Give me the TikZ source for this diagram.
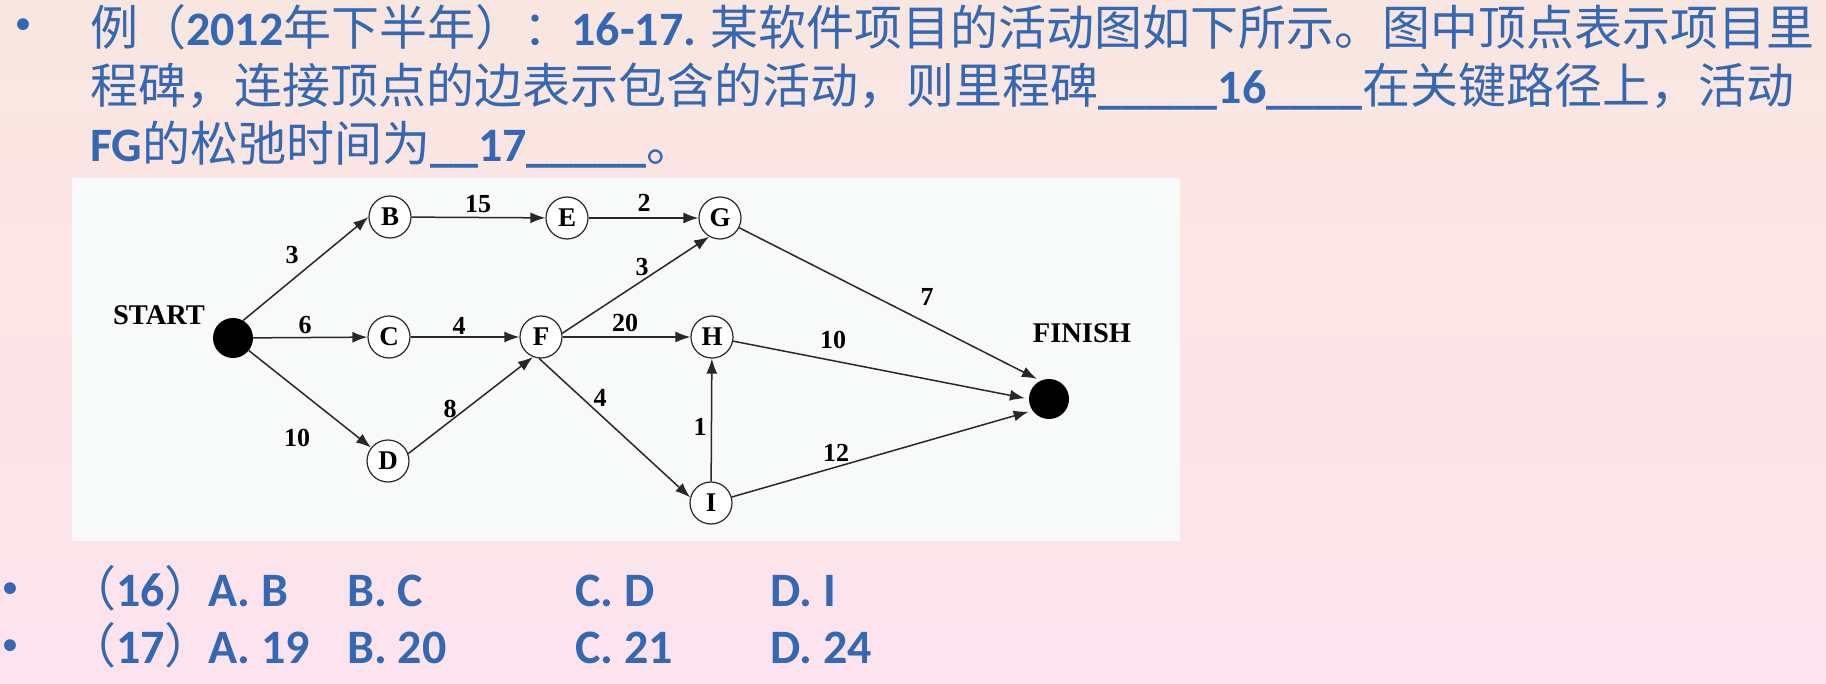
\documentclass[tikz,border=0pt]{standalone}
\usepackage{fontspec}
\setmainfont{Carlito}
\newfontfamily\cjk{Noto Sans CJK SC}
\newfontfamily\tnr{Liberation Serif}
\usetikzlibrary{arrows.meta}
\definecolor{txtblue}{RGB}{52,104,178}
\definecolor{bgtop}{RGB}{250,230,224}
\definecolor{bgbot}{RGB}{252,227,238}
\definecolor{edgegray}{RGB}{40,40,40}
\definecolor{boxfill}{RGB}{248,249,249}
\begin{document}
\begin{tikzpicture}[x=1pt,y=-1pt,
  ms/.style={circle, draw=edgegray, line width=1.2pt, fill=white, minimum size=42pt, inner sep=0pt, font=\tnr\bfseries\fontsize{27}{27}\selectfont},
  term/.style={circle, fill=black, minimum size=40pt, inner sep=0pt},
  lbl/.style={font=\tnr\bfseries\fontsize{26}{26}\selectfont, inner sep=0pt},
  tag/.style={font=\tnr\bfseries\fontsize{28.5}{28.5}\selectfont, inner sep=0pt},
  act/.style={draw=edgegray, line width=1.5pt, -{Latex[length=15pt,width=11pt]}},
  fin/.style={act, shorten >=4pt},
  qtext/.style={text=txtblue, font=\fontsize{48}{58}\selectfont, inner sep=0pt, anchor=base west},
  bul/.style={text=txtblue, font=\bfseries\fontsize{28}{28}\selectfont, inner sep=0pt},
]
\useasboundingbox (0,0) rectangle (1826,684);
\shade[top color=bgtop, bottom color=bgbot] (0,0) rectangle (1826,684);
\fill[boxfill] (72,178) rectangle (1180,541);

% question text
\node[bul] (b1) at (23,26) {•};
\node[qtext] (t1) at (90,46) {{\cjk 例（}\textbf{2012}{\cjk 年下半年）：}\textbf{16-17. }{\cjk 某软件项目的活动图如下所示。图中顶点表示项目里}};
\node[qtext] (t2) at (90,104) {{\cjk 程碑，连接顶点的边表示包含的活动，则里程碑}\textbf{\_\_\_\_\_16\_\_\_\_}{\cjk 在关键路径上，活动}};
\node[qtext] (t3) at (90,162) {\textbf{FG}{\cjk 的松弛时间为}\textbf{\_\_17\_\_\_\_\_}{\cjk 。}};

% options
\node[bul] (b2) at (10,590) {•};
\node[bul] (b3) at (10,647) {•};
\node[qtext] (q16) at (68,606) {{\cjk （}\textbf{16}{\cjk ）}};
\node[qtext] (q16a) at (208,606) {\textbf{A. B}};
\node[qtext] (q16b) at (347,606) {\textbf{B. C}};
\node[qtext] (q16c) at (575,606) {\textbf{C. D}};
\node[qtext] (q16d) at (770,606) {\textbf{D. I}};
\node[qtext] (q17) at (68,663) {{\cjk （}\textbf{17}{\cjk ）}};
\node[qtext] (q17a) at (208,663) {\textbf{A. 19}};
\node[qtext] (q17b) at (347,663) {\textbf{B. 20}};
\node[qtext] (q17c) at (575,663) {\textbf{C. 21}};
\node[qtext] (q17d) at (770,663) {\textbf{D. 24}};

% network
\node[term] (start) at (233,338) {};
\node[tag] (startlbl) at (159,315) {START};
\node[ms] (B) at (390,217) {B};
\node[ms] (E) at (567,218) {E};
\node[ms] (G) at (720,218) {G};
\node[ms] (C) at (389,337) {C};
\node[ms] (F) at (541,337) {F};
\node[ms] (H) at (712,337) {H};
\node[ms] (D) at (388,461) {D};
\node[ms] (I) at (711,503) {I};
\node[term] (finish) at (1049,399) {};
\node[tag] (finlbl) at (1082,333) {FINISH};

\draw[act] (start.60) -- (B.west);
\draw[act] (start) -- (C);
\draw[act] (start) -- (D);
\draw[act] (B) -- (E);
\draw[act] (E) -- (G);
\draw[act] (C) -- (F);
\draw[act] (D.20) -- (F.-112);
\draw[act] (F.10) -- (G.240);
\draw[act] (F) -- (H);
\draw[act] (F.-95) -- (I.165);
\draw[act] (I) -- (H);
\draw[fin] (G) -- (finish.115);
\draw[fin] (H) -- (finish.180);
\draw[fin] (I) -- (finish.215);

\node[lbl] (l1) at (292,255) {3};
\node[lbl] (l2) at (305,325) {6};
\node[lbl] (l3) at (297,438) {10};
\node[lbl] (l4) at (478,204) {15};
\node[lbl] (l5) at (644,203) {2};
\node[lbl] (l6) at (459,326) {4};
\node[lbl] (l7) at (450,409) {8};
\node[lbl] (l8) at (642,267) {3};
\node[lbl] (l9) at (625,323) {20};
\node[lbl] (l10) at (600,398) {4};
\node[lbl] (l11) at (927,297) {7};
\node[lbl] (l12) at (833,340) {10};
\node[lbl] (l13) at (700,427) {1};
\node[lbl] (l14) at (836,453) {12};
\end{tikzpicture}
\end{document}
